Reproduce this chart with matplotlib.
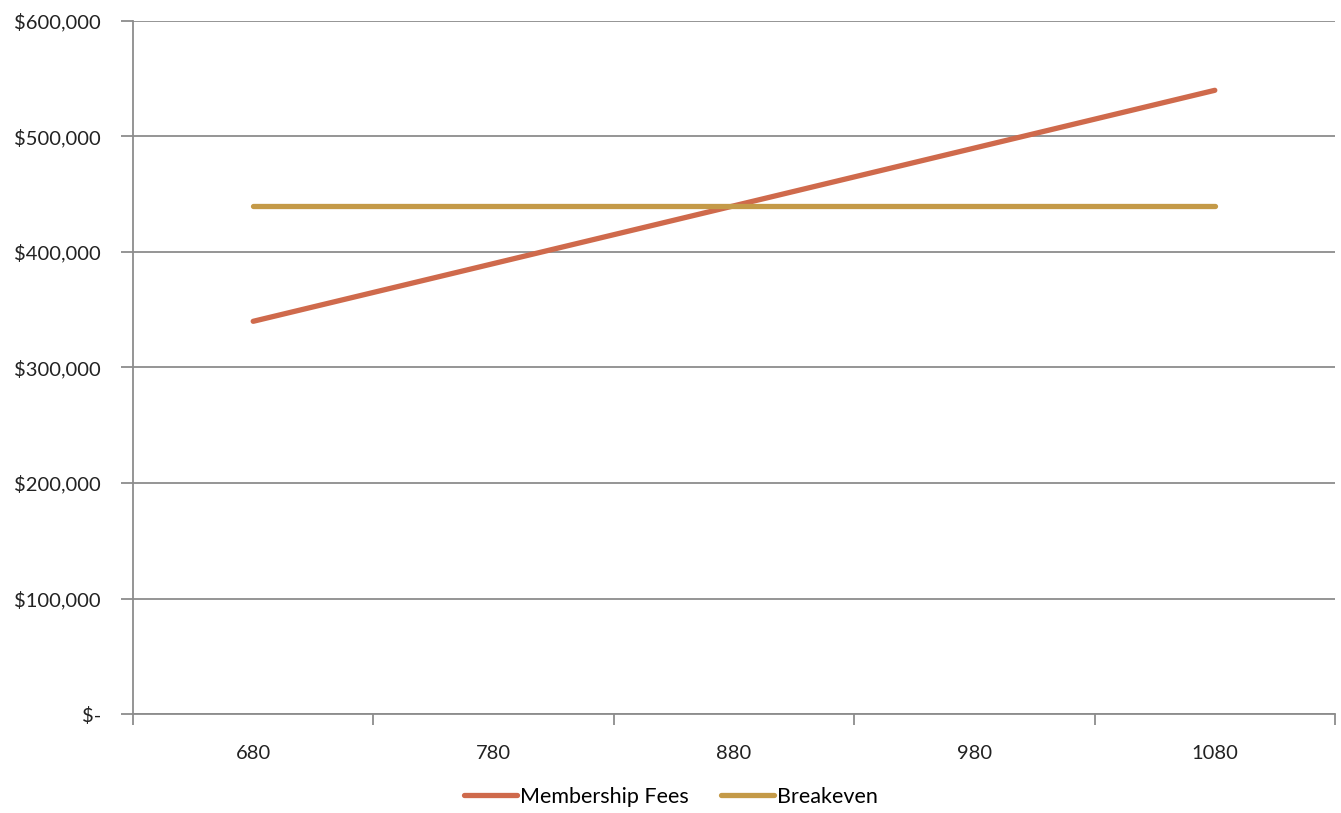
import matplotlib
matplotlib.use("Agg")
import matplotlib.pyplot as plt
from matplotlib.ticker import FuncFormatter

categories = ["680", "780", "880", "980", "1080"]
membership_fees = [340000, 390000, 440000, 490000, 540000]
breakeven = [440000, 440000, 440000, 440000, 440000]
y_ticks = [0, 100000, 200000, 300000, 400000, 500000, 600000]

plt.rcParams['font.family'] = ['Lato', 'DejaVu Sans']

fig = plt.figure(figsize=(13.41, 8.13), dpi=100)
ax = fig.add_axes([133/1341, 1-714/813, (1335-133)/1341, (714-21)/813])

x = list(range(len(categories)))
ax.plot(x, membership_fees, color="#CF6A4C", lw=3.8, solid_capstyle='round', label="Membership Fees", zorder=3)
ax.plot(x, breakeven, color="#C49A48", lw=3.8, solid_capstyle='round', label="Breakeven", zorder=3)

ax.set_xlim(-0.5, len(categories) - 0.5)
ax.set_ylim(0, 600000)
ax.set_yticks(y_ticks)

def fmt(v, pos):
    if v == 0:
        return "$-"
    return "${:,.0f}".format(v)
ax.yaxis.set_major_formatter(FuncFormatter(fmt))

ax.set_xticks(x)
ax.set_xticklabels(categories)
ax.set_xticks([i - 0.5 for i in range(len(categories) + 1)], minor=True)
ax.tick_params(axis='x', which='major', length=0, pad=22, labelsize=14.5, labelcolor="#222222")
ax.tick_params(axis='x', which='minor', length=8, width=1.3, color="#8C8C8C", direction='out')
ax.tick_params(axis='y', which='major', length=9, width=1.3, color="#8C8C8C", pad=14, labelsize=14.5, labelcolor="#222222")

ax.grid(axis='y', color="#8C8C8C", lw=1.3)
ax.set_axisbelow(True)
for s in ['top', 'right']:
    ax.spines[s].set_visible(False)
for s in ['left', 'bottom']:
    ax.spines[s].set_color("#8C8C8C")
    ax.spines[s].set_linewidth(1.3)

fig.legend(loc='center', bbox_to_anchor=(0.5, 1 - 797/813), ncol=2, frameon=False,
           fontsize=15.5, handlelength=2.5, handletextpad=0.1, columnspacing=1.5)

fig.savefig("out.png", dpi=100)
